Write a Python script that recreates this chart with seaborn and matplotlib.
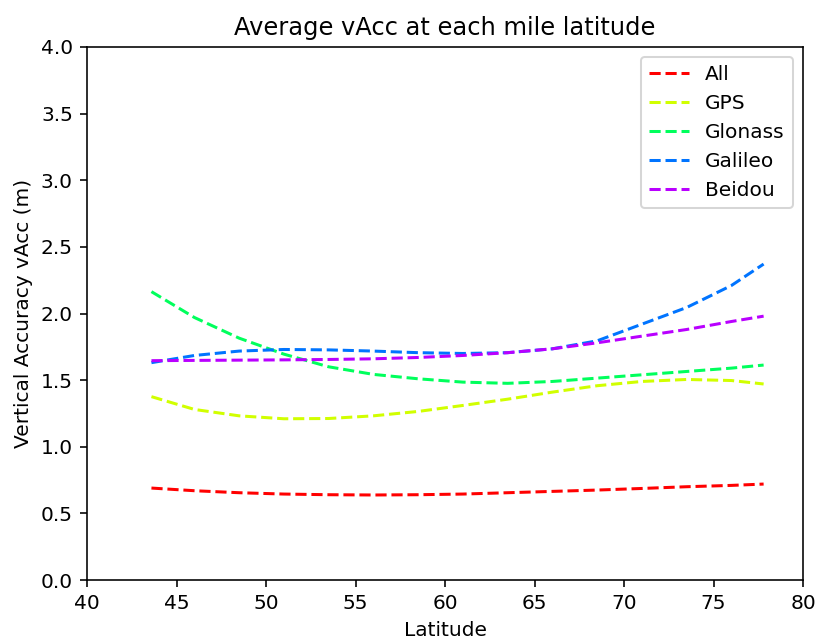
import matplotlib
matplotlib.use("Agg")
import matplotlib.pyplot as plt
import seaborn as sns
import pandas as pd

latitude = [43.6, 46, 48.5, 51, 53.5, 56, 58.5, 61, 63.5, 66, 68.5, 71, 73.5, 76, 77.8]
series_names = ["All", "GPS", "Glonass", "Galileo", "Beidou"]
all_vals = [0.69, 0.67, 0.655, 0.645, 0.64, 0.638, 0.64, 0.645, 0.655, 0.665, 0.675, 0.687, 0.70, 0.71, 0.72]
gps_vals = [1.376, 1.28, 1.232, 1.21, 1.212, 1.232, 1.265, 1.31, 1.357, 1.41, 1.458, 1.49, 1.505, 1.497, 1.471]
glonass_vals = [2.164, 1.97, 1.815, 1.695, 1.60, 1.543, 1.51, 1.485, 1.476, 1.49, 1.515, 1.54, 1.565, 1.59, 1.613]
galileo_vals = [1.631, 1.685, 1.718, 1.73, 1.727, 1.718, 1.706, 1.70, 1.706, 1.735, 1.795, 1.92, 2.045, 2.21, 2.371]
beidou_vals = [1.646, 1.648, 1.65, 1.652, 1.655, 1.66, 1.67, 1.685, 1.706, 1.735, 1.78, 1.83, 1.88, 1.94, 1.98]
x_ticks = [40, 45, 50, 55, 60, 65, 70, 75, 80]
y_ticks = [0.0, 0.5, 1.0, 1.5, 2.0, 2.5, 3.0, 3.5, 4.0]

values = [all_vals, gps_vals, glonass_vals, galileo_vals, beidou_vals]
rows = []
for name, vals in zip(series_names, values):
    for lat, v in zip(latitude, vals):
        rows.append({"Latitude": lat, "vAcc": v, "Constellation": name})
df = pd.DataFrame(rows)

colors = [plt.cm.hsv(i / 5) for i in range(5)]

DPI = 145
fig = plt.figure(figsize=(816 / DPI, 639 / DPI), dpi=DPI)
ax = fig.add_axes([87 / 816, 1 - 580 / 639, (803 - 87) / 816, (580 - 47) / 639])
sns.lineplot(data=df, x="Latitude", y="vAcc", hue="Constellation",
             hue_order=series_names, palette=colors,
             linestyle="--", ax=ax, linewidth=1.5)
ax.set_xlim(40, 80)
ax.set_ylim(0, 4)
ax.set_xticks(x_ticks)
ax.set_yticks(y_ticks)
ax.set_xlabel("Latitude")
ax.set_ylabel("Vertical Accuracy vAcc (m)")
ax.set_title("Average vAcc at each mile latitude")
leg = ax.legend(loc="upper right")
for line in leg.get_lines():
    line.set_linestyle("--")
fig.savefig("out.png", dpi=DPI)
